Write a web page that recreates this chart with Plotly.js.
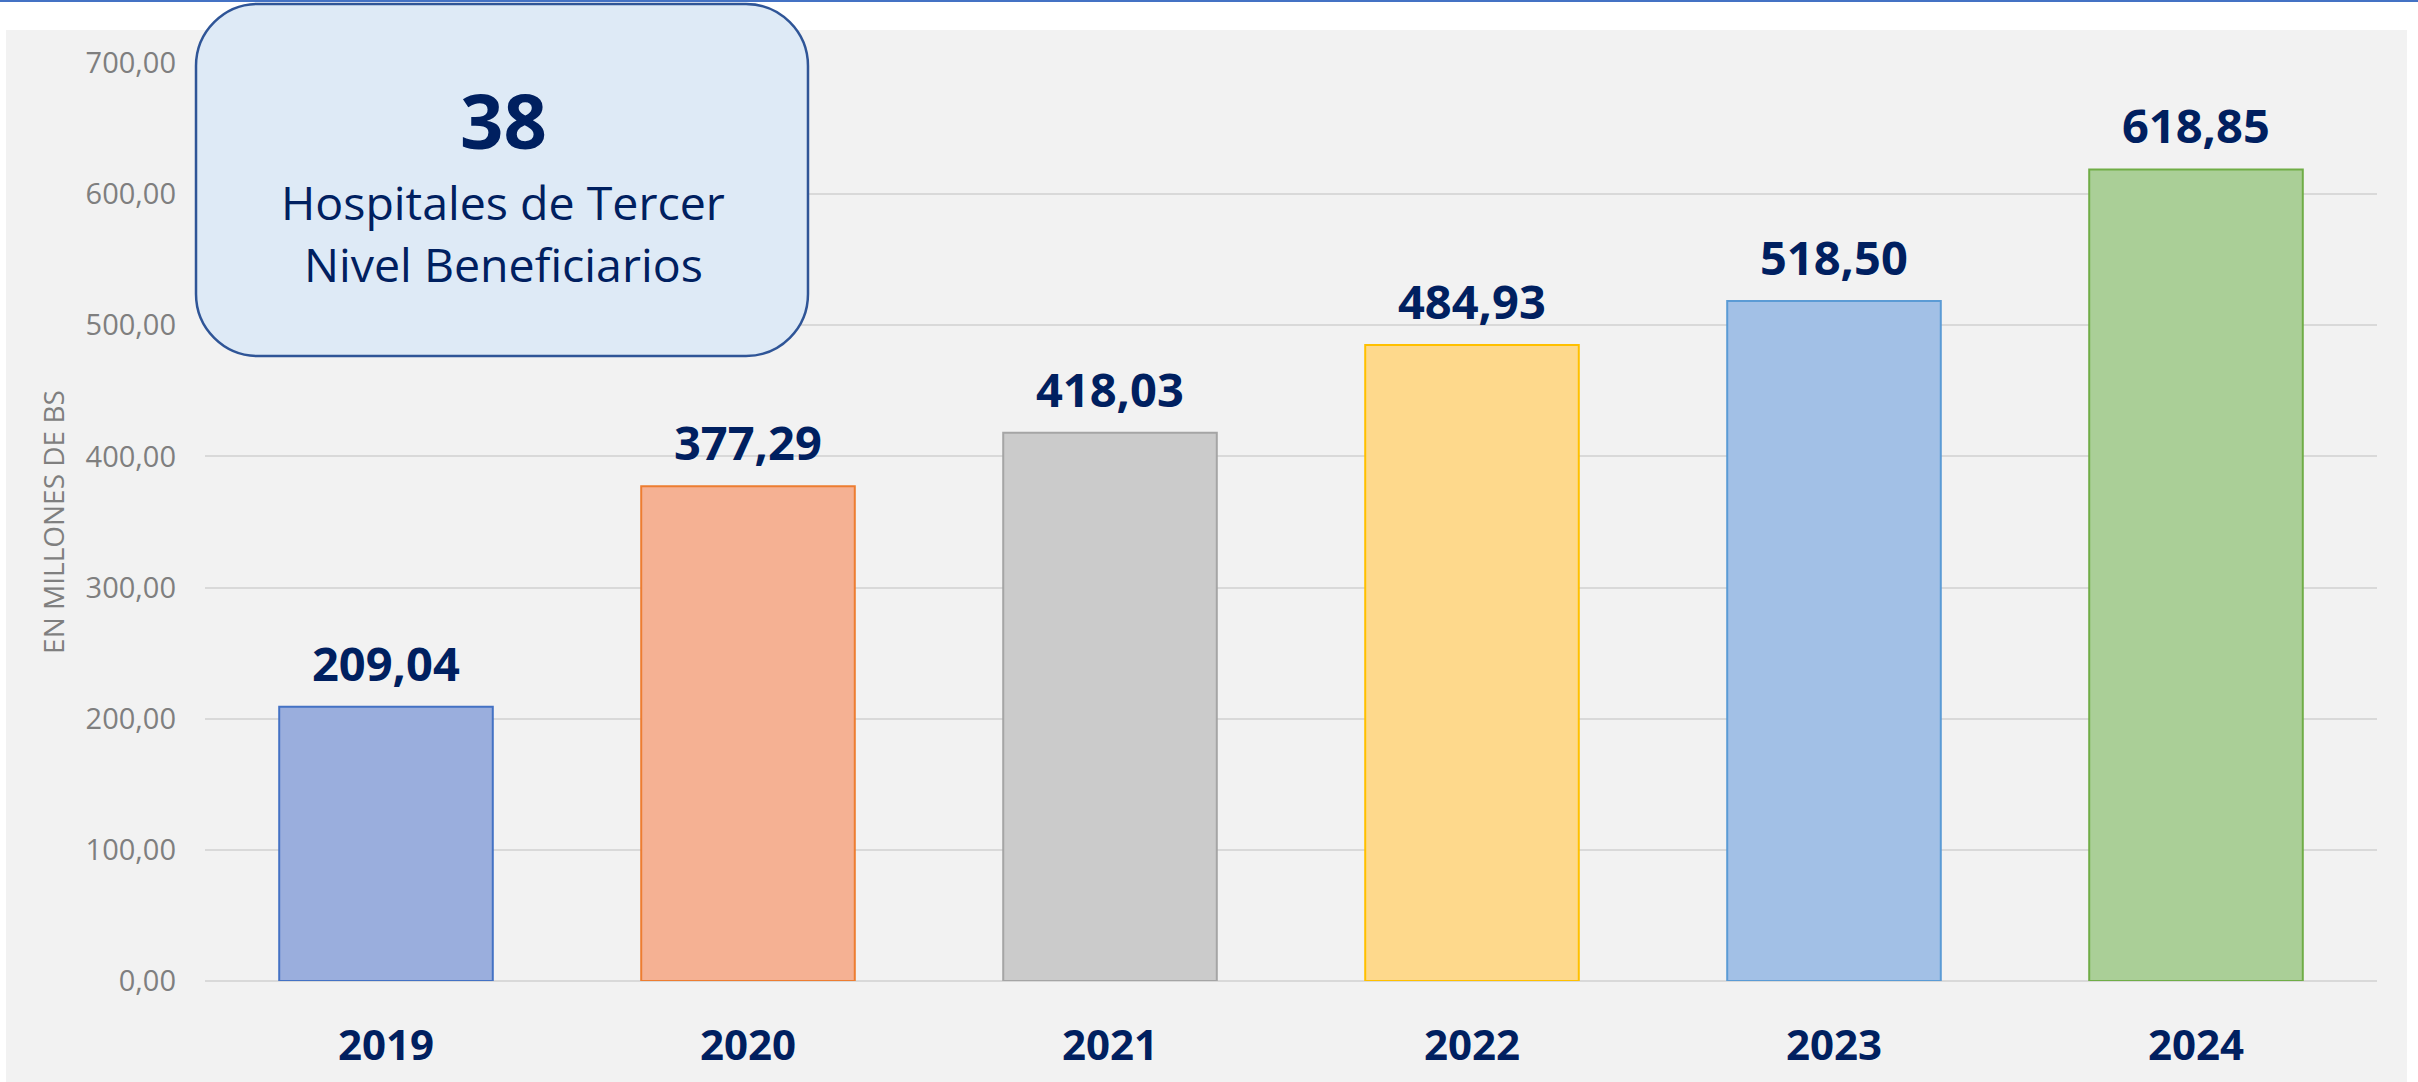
<!DOCTYPE html>
<html>
<head>
<meta charset="utf-8">
<script src="https://cdn.plot.ly/plotly-3.0.1.min.js"></script>
<style>
  html, body { margin: 0; padding: 0; background: #ffffff; }
  #chart { width: 2418px; height: 1082px; }
</style>
</head>
<body>
<div id="chart"></div>
<script>
// ---- data ----
const years = ['2019', '2020', '2021', '2022', '2023', '2024'];
const amounts = [209.04, 377.29, 418.03, 484.93, 518.50, 618.85];
const fillColors = ['#9aaedd', '#f5b193', '#cbcbcb', '#fed98c', '#a2c0e6', '#aacf97'];
const lineColors = ['#4472c4', '#ed7d31', '#a5a5a5', '#ffc000', '#5b9bd5', '#70ad47'];
const yTicks = [0, 100, 200, 300, 400, 500, 600, 700];
const boxNumber = '38';
const boxLine1 = 'Hospitales de Tercer';
const boxLine2 = 'Nivel Beneficiarios';
const yTitle = 'EN MILLONES DE BS';

// ---- layout geometry (pixels of the page) ----
const W = 2418, H = 1082;
const M = { l: 205, r: 41, t: 63, b: 101 };
const PL = M.l, PR = W - M.r, PT = M.t, PB = H - M.b;
const px2x = p => (p - PL) / (PR - PL);
const px2y = p => (PB - p) / (PB - PT);

function roundRectPath(x0, y0, x1, y1, r) {
  const k = 0.5523 * r;
  const pt = (x, y) => px2x(x).toFixed(5) + ',' + px2y(y).toFixed(5);
  return 'M' + pt(x0 + r, y0) +
    ' L' + pt(x1 - r, y0) +
    ' C' + pt(x1 - r + k, y0) + ' ' + pt(x1, y0 + r - k) + ' ' + pt(x1, y0 + r) +
    ' L' + pt(x1, y1 - r) +
    ' C' + pt(x1, y1 - r + k) + ' ' + pt(x1 - r + k, y1) + ' ' + pt(x1 - r, y1) +
    ' L' + pt(x0 + r, y1) +
    ' C' + pt(x0 + r - k, y1) + ' ' + pt(x0, y1 - r + k) + ' ' + pt(x0, y1 - r) +
    ' L' + pt(x0, y0 + r) +
    ' C' + pt(x0, y0 + r - k) + ' ' + pt(x0 + r - k, y0) + ' ' + pt(x0 + r, y0) + ' Z';
}

const fmt = v => v.toFixed(2).replace('.', ',');
const navy = '#002060';

const trace = {
  type: 'bar',
  x: years,
  y: amounts,
  marker: { color: fillColors, line: { color: lineColors, width: 2 } },
  hoverinfo: 'x+y',
  showlegend: false
};

// category axis: annotation x given as category index
const valueLabels = years.map((yr, i) => ({
  x: i, y: amounts[i], xref: 'x', yref: 'y',
  text: fmt(amounts[i]), showarrow: false,
  yanchor: 'bottom', yshift: 10,
  font: { family: 'Open Sans', size: 47, color: navy, weight: 700 }
}));

const boxTexts = [
  { text: boxNumber, px: 503, py: 119, size: 76, weight: 700 },
  { text: boxLine1, px: 503, py: 202, size: 46.5, weight: 400 },
  { text: boxLine2, px: 503, py: 264, size: 46.5, weight: 400 }
].map(b => ({
  xref: 'paper', yref: 'paper', x: px2x(b.px), y: px2y(b.py),
  xanchor: 'center', yanchor: 'middle', showarrow: false, text: b.text,
  font: { family: 'Open Sans', size: b.size, color: navy, weight: b.weight }
}));

const layout = {
  width: W, height: H,
  margin: M,
  paper_bgcolor: '#ffffff',
  plot_bgcolor: 'rgba(0,0,0,0)',
  separators: ',.',
  bargap: 0.41,
  xaxis: {
    type: 'category',
    range: [-0.5, years.length - 0.5],
    tickfont: { family: 'Open Sans', size: 42, color: navy, weight: 700 },
    ticklabelstandoff: 36,
    showgrid: false, zeroline: false, showline: false, ticks: '',
    fixedrange: true
  },
  yaxis: {
    range: [0, 700],
    tickvals: yTicks,
    tickformat: '.2f',
    tickfont: { family: 'Open Sans', size: 29, color: '#7f7f7f' },
    ticklabelstandoff: 28,
    showgrid: true, gridcolor: '#d9d9d9', gridwidth: 2,
    zeroline: true, zerolinecolor: '#d9d9d9', zerolinewidth: 2,
    showline: false, ticks: '',
    title: { text: yTitle, standoff: 12, font: { family: 'Open Sans', size: 28, color: '#7f7f7f' } },
    fixedrange: true
  },
  shapes: [
    { type: 'rect', xref: 'paper', yref: 'paper', layer: 'below',
      x0: px2x(6), x1: px2x(2407), y0: px2y(H), y1: px2y(30),
      fillcolor: '#f2f2f2', line: { width: 0 } },
    { type: 'line', xref: 'paper', yref: 'paper', layer: 'below',
      x0: px2x(0), x1: px2x(W), y0: px2y(1), y1: px2y(1),
      line: { color: '#4472c4', width: 2 } },
    { type: 'path', xref: 'paper', yref: 'paper', layer: 'above',
      path: roundRectPath(196, 4, 808, 356, 62),
      fillcolor: '#deeaf6', line: { color: '#2f5597', width: 2.5 } }
  ],
  annotations: valueLabels.concat(boxTexts)
};

Plotly.newPlot('chart', [trace], layout, { displayModeBar: false, staticPlot: true });
</script>
</body>
</html>
